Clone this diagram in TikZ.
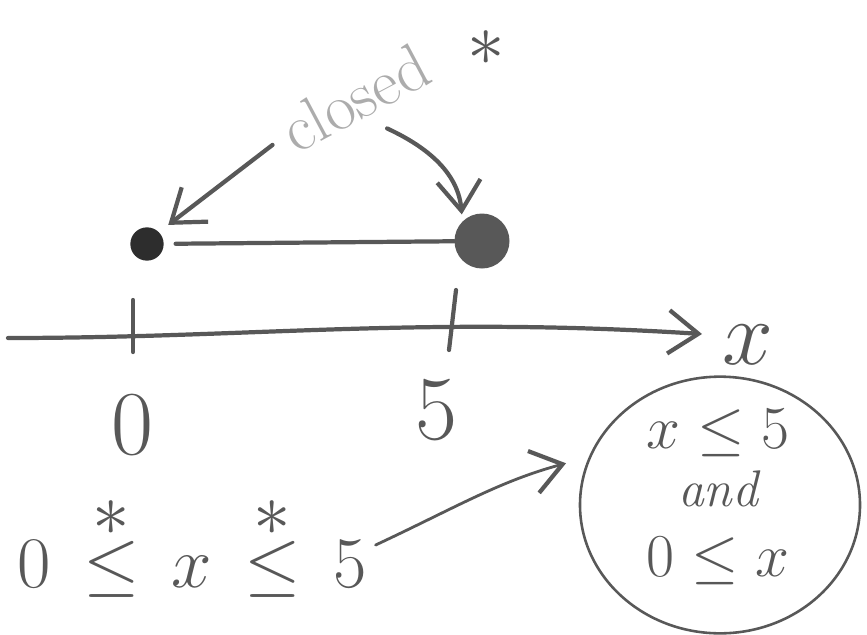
\RequirePackage{fix-cm}
\documentclass[tikz,border=0pt]{standalone}
\usepackage{amsmath}
\usepackage{tikz}
\usetikzlibrary{arrows.meta,positioning,shapes.geometric}
\definecolor{ink}{RGB}{88,88,88}
\definecolor{darkink}{RGB}{45,45,45}
\definecolor{pale}{RGB}{172,172,172}
\newcommand{\bigstar}{\mbox{\fontsize{64}{64}\selectfont$\ast$}}

\begin{document}
\begin{tikzpicture}[
  x=0.03cm, y=-0.03cm,
  pen/.style={draw=ink,line width=3.6pt,line cap=round},
  hand/.style={text=ink,font=\fontsize{62}{62}\selectfont,inner sep=2pt},
  digit/.style={text=ink,font=\fontsize{78}{78}\selectfont,inner sep=2pt},
  small/.style={text=ink,font=\fontsize{52}{56}\selectfont,inner sep=2pt},
  arr/.style={pen,-{Straight Barb[length=9mm,width=13mm,line width=3.6pt]}},
  dotnode/.style={circle,inner sep=0pt}
]
\useasboundingbox (0,0) rectangle (867,634);
% number line
\coordinate (axL) at (8,338);
\coordinate (axR) at (702,334);
\draw[arr] (axL) .. controls (250,338) and (420,316) .. (axR);
\node[digit] (xlab) at (748,345) {$x$};
\draw[pen] (133,300) -- (133,352);
\draw[pen] (456,290) -- (449,350);
\node[digit] (zero) at (132,425) {$0$};
\node[digit] (five) at (436,410) {$5$};
% end points of the interval
\node[dotnode,fill=darkink,minimum size=1.0cm] (lo) at (147,244) {};
\node[dotnode,fill=ink,minimum size=1.65cm] (hi) at (482,241) {};
\draw[pen,shorten <=10pt] (lo) -- (hi);
% label
\node[text=pale,font=\fontsize{56}{56}\selectfont,rotate=28,inner sep=0pt] (closed) at (355,98) {closed};
\node[text=ink,font=\fontsize{64}{64}\selectfont,inner sep=0pt] (star) at (486,48) {$\ast$};
\draw[arr,shorten <=14pt,shorten >=10pt] (closed.west) -- (lo.north east);
\draw[arr,shorten <=20pt,shorten >=6pt] (closed.south) to[out=-25,in=95] (hi.north west);
% inequality
\node[hand] (expr) at (192,548) {$0\,\overset{\bigstar}{\leq}\,x\,\overset{\bigstar}{\leq}\,5$};
\node[pen,ellipse,minimum width=8.4cm,minimum height=7.7cm,line width=2.2pt] (circ) at (720,505) {};
\node[small,align=center] (both) at (718,497) {$x\leq 5$\\[-6pt]{\fontsize{44}{46}\selectfont\itshape and}\\[4pt]$0\leq x$};
\draw[arr,line width=2.4pt,shorten <=6pt,shorten >=20pt] (expr.east) to[out=25,in=195] (circ.160);
\end{tikzpicture}
\end{document}
